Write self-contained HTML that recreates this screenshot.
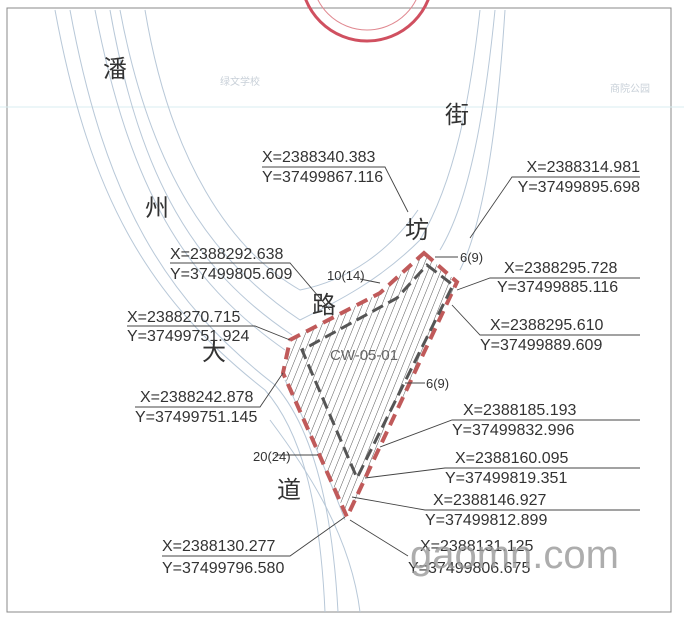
<!DOCTYPE html>
<html><head><meta charset="utf-8"><style>
html,body{margin:0;padding:0;background:#fff;}
svg{display:block}
text{font-family:"Liberation Sans Narrow","Liberation Sans",sans-serif;fill:#333;}
.c{font-family:"Liberation Sans","Noto Sans CJK SC",sans-serif;font-size:24px;fill:#333}
.t{font-size:16px}
</style></head><body>
<svg width="684" height="618" viewBox="0 0 684 618" xmlns="http://www.w3.org/2000/svg">
<defs>
<pattern id="h" patternUnits="userSpaceOnUse" width="6" height="6" patternTransform="rotate(22)">
<line x1="0" y1="0" x2="0" y2="6" stroke="#444" stroke-width="0.9"/>
</pattern>
</defs>
<rect x="0" y="0" width="684" height="618" fill="#fff"/>
<rect x="7" y="8" width="664" height="604" fill="none" stroke="#888" stroke-width="1"/>
<circle cx="367" cy="-25" r="66" fill="none" stroke="#d05060" stroke-width="3"/>
<circle cx="367" cy="-25" r="55" fill="none" stroke="#e08890" stroke-width="1"/>
<line x1="0" y1="107" x2="684" y2="107" stroke="#d8eef0" stroke-width="1"/>
<g fill="none" stroke="#b8c8d8" stroke-width="1">
<path d="M55 10 C90 200 150 300 265 390 C300 430 320 500 325 612"/>
<path d="M70 10 C105 200 165 300 275 385 C310 425 332 500 338 612"/>
<path d="M95 10 C130 190 185 280 285 350"/>
<path d="M110 10 C140 180 195 270 292 335"/>
<path d="M120 10 C150 170 210 260 300 320 C340 300 380 280 420 240"/>
<path d="M145 10 C170 160 230 250 300 290 C350 280 390 250 418 210"/>
<path d="M270 420 C300 460 350 530 360 612"/>
<path d="M480 10 C470 100 455 180 420 240"/>
<path d="M495 10 C485 110 470 200 440 250"/>
<path d="M505 10 C498 120 485 220 460 270"/>
<path d="M285 380 C305 420 330 480 345 520"/>
</g>
<text x="220" y="85" font-size="10" style="fill:#c8d0d8">绿文学校</text>
<text x="610" y="92" font-size="10" style="fill:#c8d0d8">商院公园</text>
<polygon points="424,253 457,282 347,517 283,373 290,340 313,328 380,293" fill="url(#h)"/>
<polygon points="424,253 457,282 347,517 283,373 290,340 313,328 380,293" fill="none" stroke="#c05a5a" stroke-width="4" stroke-dasharray="12,7"/>
<polygon points="427,265 453,285 357,478 302,350 397,298" fill="none" stroke="#555" stroke-width="3" stroke-dasharray="12,6"/>
<text x="330" y="360" font-size="15" style="fill:#666">CW-05-01</text>
<g class="c"><text x="103" y="77">潘</text><text x="145" y="216">州</text><text x="312" y="313">路</text><text x="202" y="360">大</text><text x="277" y="498">道</text><text x="445" y="123">街</text><text x="405" y="238">坊</text></g>
<g fill="none" stroke="#444" stroke-width="0.9">
<path d="M262 167 H385 L408 212"/><path d="M640 177 H512 L470 238"/>
<path d="M170 263 H290 L330 310"/><path d="M435 257 H458"/>
<path d="M360 279 L380 283"/><path d="M640 278 H490 L457 290"/>
<path d="M127 326 H255 L290 340"/><path d="M640 335 H480 L452 305"/>
<path d="M405 383 H425"/><path d="M135 407 H260 L283 373"/>
<path d="M640 420 H452 L380 447"/><path d="M275 455 H318"/>
<path d="M640 468 H445 L365 478"/><path d="M640 510 H425 L352 497"/>
<path d="M162 556 H290 L345 517"/><path d="M408 556 L350 520"/>
</g>
<g class="t">
<text x="262" y="162">X=2388340.383</text><text x="262" y="182">Y=37499867.116</text>
<text x="640" y="172" text-anchor="end">X=2388314.981</text><text x="640" y="192" text-anchor="end">Y=37499895.698</text>
<text x="170" y="259">X=2388292.638</text><text x="170" y="279">Y=37499805.609</text>
<text x="460" y="262" font-size="13">6(9)</text><text x="327" y="280" font-size="13">10(14)</text>
<text x="504" y="273">X=2388295.728</text><text x="497" y="292">Y=37499885.116</text>
<text x="127" y="322">X=2388270.715</text><text x="127" y="341">Y=37499751.924</text>
<text x="490" y="330">X=2388295.610</text><text x="480" y="350">Y=37499889.609</text>
<text x="426" y="388" font-size="13">6(9)</text>
<text x="140" y="402">X=2388242.878</text><text x="135" y="422">Y=37499751.145</text>
<text x="463" y="415">X=2388185.193</text><text x="452" y="435">Y=37499832.996</text>
<text x="253" y="461" font-size="13">20(24)</text>
<text x="455" y="463">X=2388160.095</text><text x="445" y="483">Y=37499819.351</text>
<text x="433" y="505">X=2388146.927</text><text x="425" y="525">Y=37499812.899</text>
<text x="162" y="551">X=2388130.277</text><text x="162" y="573">Y=37499796.580</text>
<text x="420" y="551">X=2388131.125</text><text x="408" y="573">Y=37499806.675</text>
</g>
<text x="410" y="568" font-size="40" style="font-family:'Liberation Sans',sans-serif;fill:#999;opacity:0.8">gaomn.com</text>
</svg>
</body></html>
